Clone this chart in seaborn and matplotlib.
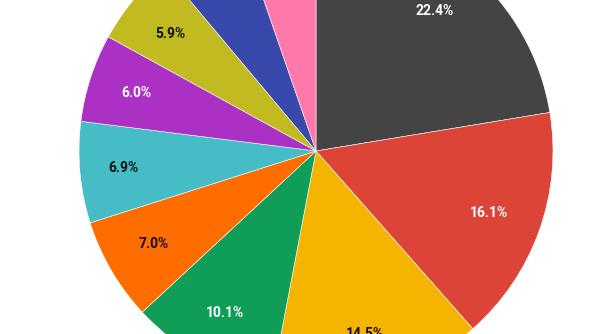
import matplotlib
matplotlib.use("Agg")
import matplotlib.pyplot as plt
import seaborn as sns

sns.set_theme(style="white")
plt.rcParams["font.family"] = ["Roboto", "DejaVu Sans"]

# Share of each slice, clockwise from 12 o'clock (percent)
categories = ["A", "B", "C", "D", "E", "F", "G", "H", "I", "J"]
shares = [22.4, 16.1, 14.5, 10.1, 7.0, 6.9, 6.0, 5.9, 5.8, 5.3]
colors = ["#444444", "#db4437", "#f4b400", "#0f9d58", "#ff6d01",
          "#46bdc6", "#ab30c4", "#c1bb21", "#3949ab", "#ff78aa"]
label_colors = ["white", "white", "#111111", "white", "#111111",
                "#111111", "white", "#111111", "white", "#111111"]
# Per-label nudges in pixels (right, down) so each label sits well inside its slice
label_nudge = [(0, 0), (0, 0), (0, 6), (-2, 1), (-4, 0),
               (-10, 0), (-5, -1), (-4, 0), (0, 0), (0, 0)]

W, H, DPI = 594, 334, 100
fig = plt.figure(figsize=(W / DPI, H / DPI), dpi=DPI)
ax = fig.add_axes([0, 0, 1, 1])

wedges, texts, autotexts = ax.pie(
    shares,
    colors=colors,
    startangle=90,
    counterclock=False,
    autopct="%1.1f%%",
    pctdistance=0.775,
    radius=1.0,
    wedgeprops=dict(linewidth=0.4, edgecolor="white"),
)

# Pie centre sits at (316, 151) px with a 237 px radius; the frame crops it
r_px, cx, cy = 237.0, 316.0, 151.0
ax.set_xlim(-cx / r_px, (W - cx) / r_px)
ax.set_ylim(-(H - cy) / r_px, cy / r_px)
ax.set_aspect("auto")
ax.axis("off")

for t, c, (dx, dy) in zip(autotexts, label_colors, label_nudge):
    t.set_color(c)
    t.set_fontsize(10)
    t.set_fontweight("bold")
    x, y = t.get_position()
    t.set_position((x + dx / r_px, y - dy / r_px))

fig.savefig("out.png", dpi=DPI)
